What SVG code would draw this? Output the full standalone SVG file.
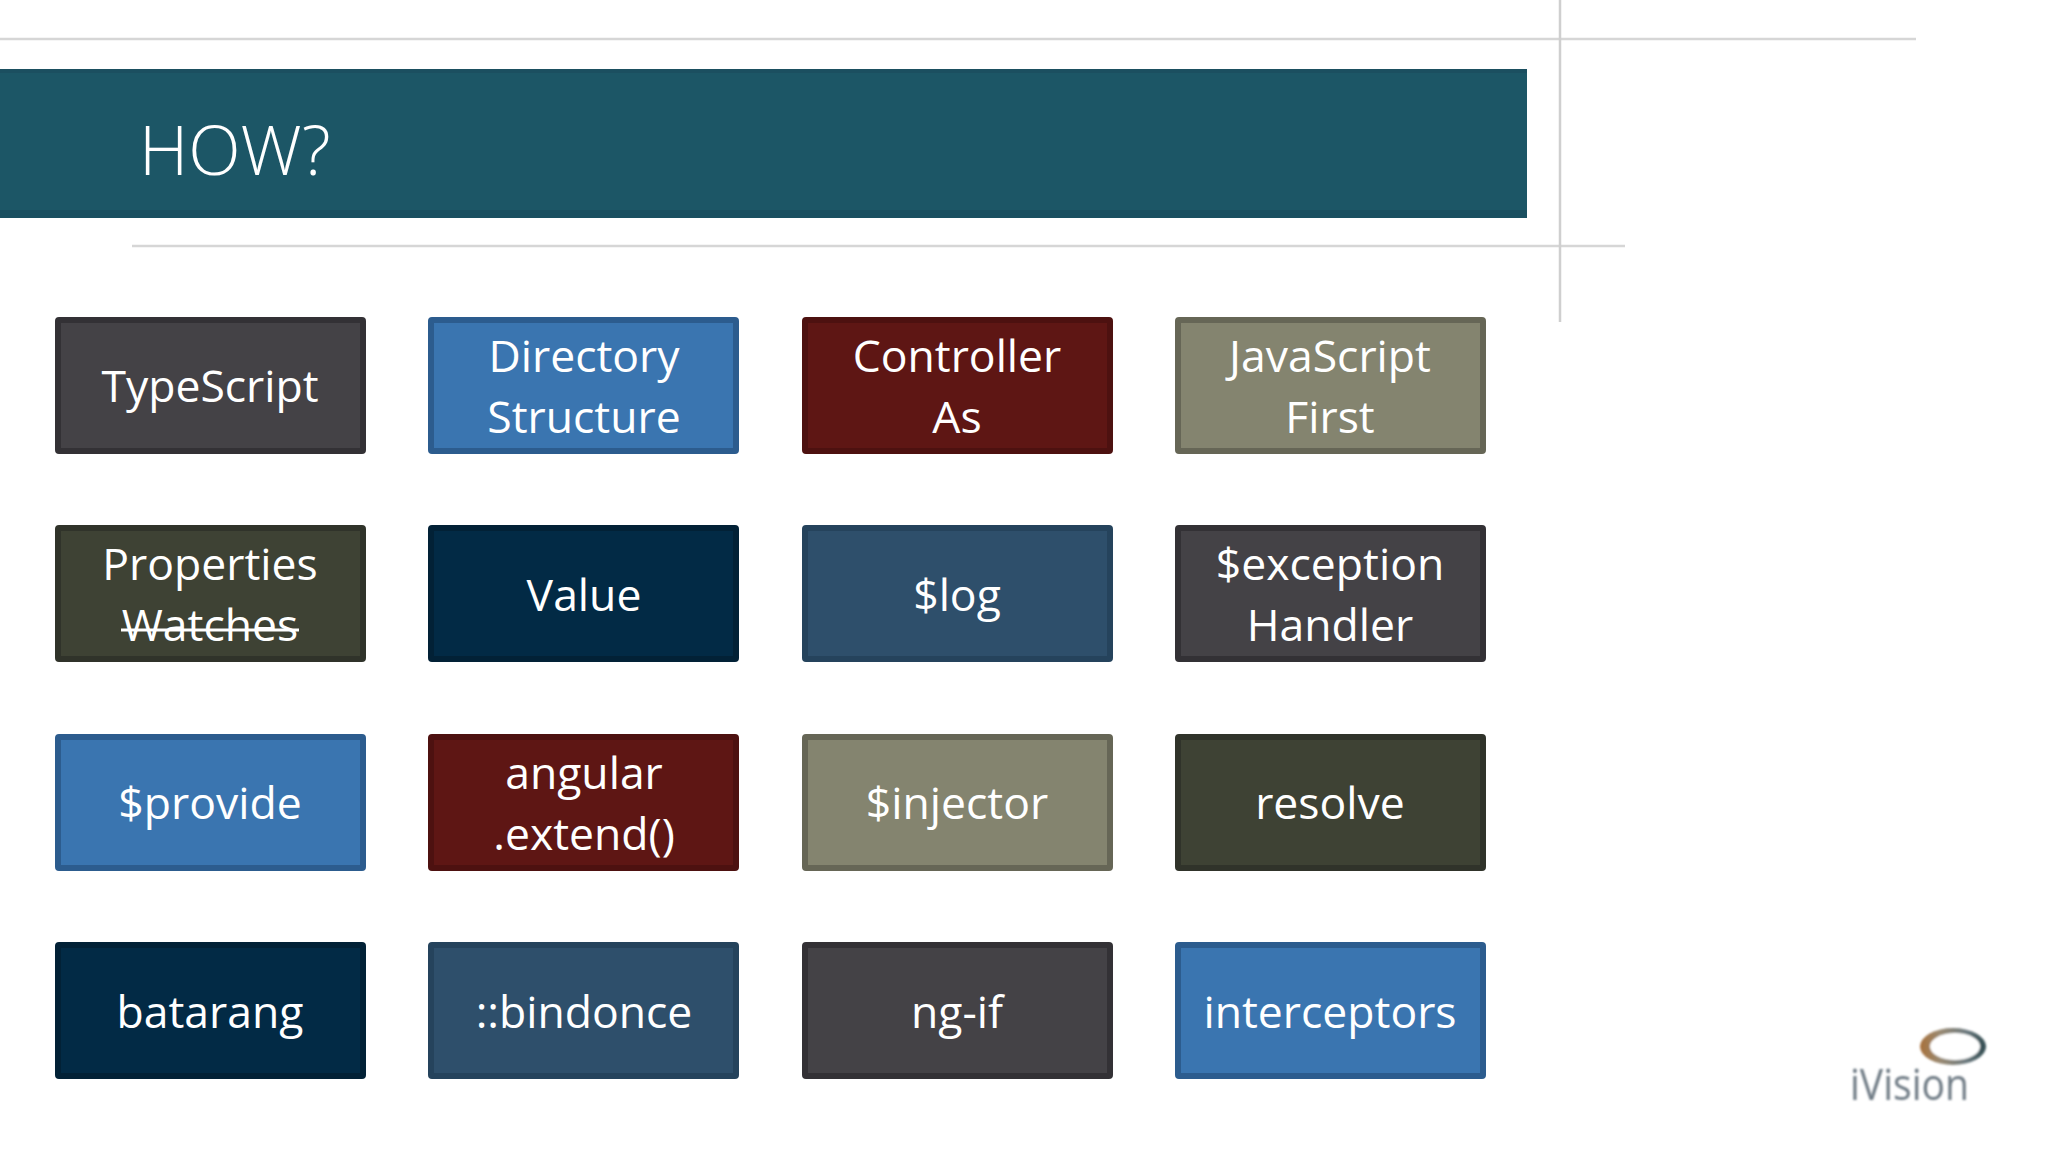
<svg xmlns="http://www.w3.org/2000/svg" width="2048" height="1152" viewBox="0 0 2048 1152">
<defs>
<linearGradient id="ring" x1="0" y1="0" x2="1" y2="0"><stop offset="0" stop-color="#a8703a"/><stop offset="0.3" stop-color="#9a8a72"/><stop offset="0.7" stop-color="#6d7b80"/><stop offset="1" stop-color="#2f4a4f"/></linearGradient>
<filter id="soft" x="-10%" y="-10%" width="120%" height="120%"><feGaussianBlur stdDeviation="0.9"/></filter>
</defs>
<style>
.b rect{stroke-width:6;}
.t{font-family:"Open Sans","Noto Sans",sans-serif;font-size:44.5px;fill:#fff;text-anchor:middle;}
.rule{stroke:#d6d6d6;stroke-width:2.5;fill:none;}
.grey rect{fill:#444246;stroke:#333135;}
.blue rect{fill:#3a75b0;stroke:#2c5c8e;}
.red rect{fill:#5e1614;stroke:#4d1110;}
.oliv rect{fill:#84846f;stroke:#666656;}
.dol rect{fill:#3e4234;stroke:#30332a;}
.navy rect{fill:#022a45;stroke:#022136;}
.slate rect{fill:#2e4f6b;stroke:#25435c;}
</style>
<rect width="2048" height="1152" fill="#fff"/>
<g id="rules">
<line class="rule" x1="0" y1="39" x2="1916" y2="39"/>
<line class="rule" x1="132" y1="246" x2="1625" y2="246"/>
<line class="rule" x1="1560" y1="0" x2="1560" y2="322" style="stroke:#cfcfcf"/>
</g>
<g id="banner">
<rect x="0" y="69" width="1527" height="149" fill="#1c5666"/>
<rect x="0" y="69" width="1527" height="4" fill="#1b4f60"/>
<rect x="0" y="210" width="1527" height="8" fill="#1a4f60"/>
<text x="139" y="175" font-family="'Open Sans','Noto Sans',sans-serif" font-weight="300" font-size="68.5" fill="#fff">HOW?</text>
</g>
<g id="n1" class="b grey"><rect x="58" y="320" width="305" height="131" rx="1"/><text class="t" x="210" y="402">TypeScript</text></g>
<g id="n2" class="b blue"><rect x="431" y="320" width="305" height="131" rx="1"/><text class="t" x="584" y="372">Directory</text><text class="t" x="584" y="433">Structure</text></g>
<g id="n3" class="b red"><rect x="805" y="320" width="305" height="131" rx="1"/><text class="t" x="957" y="372">Controller</text><text class="t" x="957" y="433">As</text></g>
<g id="n4" class="b oliv"><rect x="1178" y="320" width="305" height="131" rx="1"/><text class="t" x="1330" y="372">JavaScript</text><text class="t" x="1330" y="433">First</text></g>
<g id="n5" class="b dol"><rect x="58" y="528" width="305" height="131" rx="1"/><text class="t" x="210" y="580">Properties</text><text class="t" x="210" y="641">Watches</text><line x1="121" y1="630" x2="299" y2="630" stroke="#fff" stroke-width="3"/></g>
<g id="n6" class="b navy"><rect x="431" y="528" width="305" height="131" rx="1"/><text class="t" x="584" y="611">Value</text></g>
<g id="n7" class="b slate"><rect x="805" y="528" width="305" height="131" rx="1"/><text class="t" x="957" y="611">$log</text></g>
<g id="n8" class="b grey"><rect x="1178" y="528" width="305" height="131" rx="1"/><text class="t" x="1330" y="580">$exception</text><text class="t" x="1330" y="641">Handler</text></g>
<g id="n9" class="b blue"><rect x="58" y="737" width="305" height="131" rx="1"/><text class="t" x="210" y="819">$provide</text></g>
<g id="n10" class="b red"><rect x="431" y="737" width="305" height="131" rx="1"/><text class="t" x="584" y="789">angular</text><text class="t" x="584" y="850">.extend()</text></g>
<g id="n11" class="b oliv"><rect x="805" y="737" width="305" height="131" rx="1"/><text class="t" x="957" y="819">$injector</text></g>
<g id="n12" class="b dol"><rect x="1178" y="737" width="305" height="131" rx="1"/><text class="t" x="1330" y="819">resolve</text></g>
<g id="n13" class="b navy"><rect x="58" y="945" width="305" height="131" rx="1"/><text class="t" x="210" y="1028">batarang</text></g>
<g id="n14" class="b slate"><rect x="431" y="945" width="305" height="131" rx="1"/><text class="t" x="584" y="1028">::bindonce</text></g>
<g id="n15" class="b grey"><rect x="805" y="945" width="305" height="131" rx="1"/><text class="t" x="957" y="1028">ng-if</text></g>
<g id="n16" class="b blue"><rect x="1178" y="945" width="305" height="131" rx="1"/><text class="t" x="1330" y="1028">interceptors</text></g>
<g id="logo">
<g filter="url(#soft)">
<ellipse cx="1953" cy="1046.5" rx="33" ry="18.5" fill="url(#ring)"/>
<ellipse cx="1955" cy="1046.5" rx="25" ry="13.5" fill="#fff"/>
</g>
<text x="1850" y="1100" font-family="'Open Sans','Noto Sans',sans-serif" font-weight="400" font-size="44" fill="#6e7a84" textLength="119" lengthAdjust="spacingAndGlyphs" filter="url(#soft)">iVision</text>
</g>
</svg>
